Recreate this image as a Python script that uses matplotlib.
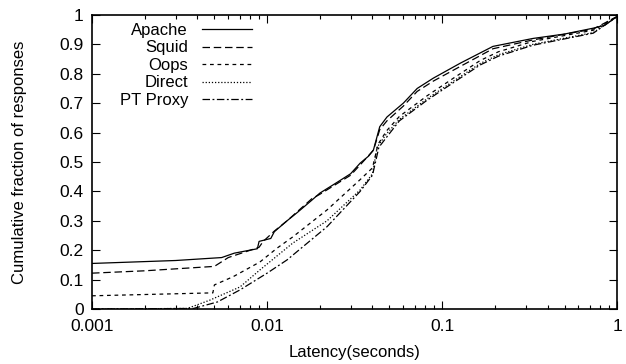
import matplotlib
matplotlib.use('Agg')
import matplotlib.pyplot as plt

plt.rcParams['font.family'] = ['Liberation Sans', 'DejaVu Sans']

# latency (s) / cumulative fraction
apache_x = [0.001, 0.003, 0.0055, 0.0065, 0.0088, 0.009, 0.0105, 0.011, 0.013, 0.015, 0.018, 0.020,
            0.025, 0.030, 0.034, 0.038, 0.0405, 0.044, 0.0484, 0.06, 0.072, 0.089, 0.127, 0.195,
            0.33, 0.5, 0.73, 0.85, 1.0]
apache_y = [0.155, 0.165, 0.175, 0.19, 0.205, 0.23, 0.24, 0.263, 0.30, 0.33, 0.37, 0.394,
            0.43, 0.46, 0.496, 0.52, 0.541, 0.62, 0.653, 0.70, 0.75, 0.785, 0.836, 0.893,
            0.92, 0.935, 0.955, 0.965, 0.995]

squid_x = [0.001, 0.002, 0.005, 0.006, 0.009, 0.0095, 0.011, 0.013, 0.018, 0.02, 0.03, 0.034,
           0.0405, 0.044, 0.0484, 0.06, 0.072, 0.089, 0.127, 0.195, 0.33, 0.73, 1.0]
squid_y = [0.122, 0.13, 0.145, 0.175, 0.21, 0.23, 0.265, 0.30, 0.375, 0.39, 0.455, 0.49,
           0.54, 0.61, 0.64, 0.69, 0.74, 0.775, 0.825, 0.885, 0.915, 0.952, 0.995]

oops_x = [0.001, 0.0049, 0.005, 0.0064, 0.0091, 0.0114, 0.014, 0.022, 0.034, 0.040, 0.043,
          0.048, 0.057, 0.082, 0.116, 0.165, 0.21, 0.33, 0.73, 1.0]
oops_y = [0.045, 0.055, 0.082, 0.11, 0.16, 0.207, 0.245, 0.337, 0.44, 0.48, 0.56,
          0.605, 0.655, 0.725, 0.785, 0.845, 0.875, 0.91, 0.948, 0.995]

direct_x = [0.001, 0.0035, 0.0047, 0.007, 0.0091, 0.014, 0.022, 0.034, 0.040, 0.0425, 0.048,
            0.057, 0.082, 0.116, 0.165, 0.21, 0.33, 0.73, 1.0]
direct_y = [0.0, 0.002, 0.03, 0.075, 0.133, 0.224, 0.30, 0.405, 0.46, 0.55, 0.595,
            0.645, 0.715, 0.775, 0.835, 0.865, 0.9, 0.94, 0.995]

pt_x = [0.001, 0.0038, 0.0052, 0.007, 0.01, 0.013, 0.022, 0.034, 0.040, 0.0435, 0.049,
        0.057, 0.082, 0.116, 0.165, 0.21, 0.33, 0.73, 1.0]
pt_y = [0.0, 0.002, 0.024, 0.065, 0.122, 0.167, 0.28, 0.40, 0.455, 0.55, 0.59,
        0.64, 0.71, 0.77, 0.83, 0.86, 0.897, 0.938, 0.995]

fig = plt.figure(figsize=(6.26, 3.64), dpi=100)
ax = fig.add_axes([0.147, 0.151, 0.839, 0.808])

lw = 0.9
ax.plot(apache_x, apache_y, color='black', lw=lw, label='Apache')
ax.plot(squid_x, squid_y, color='black', lw=lw, dashes=(6, 3), label='Squid')
ax.plot(oops_x, oops_y, color='black', lw=lw, dashes=(3, 3), label='Oops')
ax.plot(direct_x, direct_y, color='black', lw=lw, dashes=(1, 1.5), label='Direct')
ax.plot(pt_x, pt_y, color='black', lw=lw, dashes=(6, 2, 1.5, 2), label='PT Proxy')

ax.set_xscale('log')
ax.set_xlim(0.001, 1)
ax.set_ylim(0, 1)
ax.set_xticks([0.001, 0.01, 0.1, 1])
ax.set_xticklabels(['0.001', '0.01', '0.1', '1'])
ax.set_yticks([i / 10 for i in range(11)])
ax.set_yticklabels(['0', '0.1', '0.2', '0.3', '0.4', '0.5', '0.6', '0.7', '0.8', '0.9', '1'])
ax.tick_params(which='both', direction='in', top=True, right=True, labelsize=12.5)
ax.tick_params(which='major', length=6, width=0.8)
ax.tick_params(which='minor', length=3, width=0.8)
ax.tick_params(axis='x', pad=7)
ax.tick_params(axis='y', pad=6)
for s in ax.spines.values():
    s.set_linewidth(1.2)

ax.set_xlabel('Latency(seconds)', fontsize=12, labelpad=8)
ax.set_ylabel('Cumulative fraction of responses', fontsize=12)
ax.yaxis.set_label_coords(-0.124, 0.5)

ax.legend(loc='upper right', frameon=False, markerfirst=False, fontsize=12,
          handlelength=3.0, labelspacing=0.15, handletextpad=0.85,
          bbox_to_anchor=(0.305, 0.973), borderaxespad=0, borderpad=0)

fig.savefig('out.png', dpi=100)
